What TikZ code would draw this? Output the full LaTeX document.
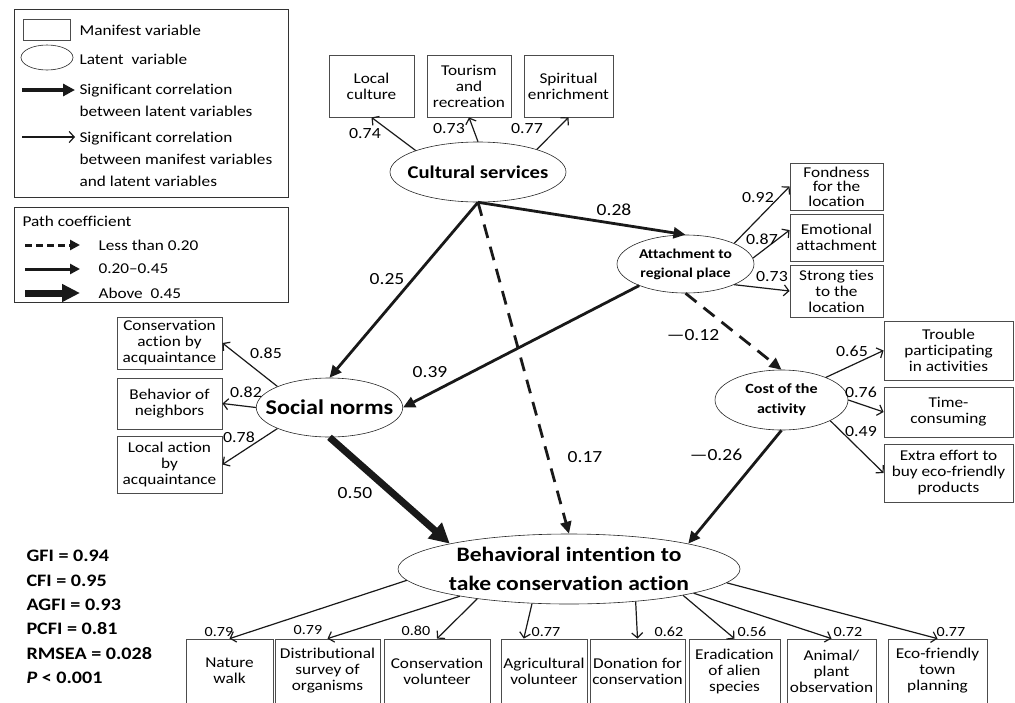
\documentclass[tikz,border=0pt]{standalone}
\usepackage{fontspec}
\setmainfont{Carlito}[FakeStretch=1.15, Ligatures=NoCommon]
\usetikzlibrary{arrows.meta,shapes.geometric}

\begin{document}
\begin{tikzpicture}[x=1pt, y=-1pt,
    mvar/.style={draw=black!70, line width=0.8pt, align=center, inner sep=0pt,
      font=\fontsize{15}{16}\selectfont},
    lvar/.style={ellipse, draw=black!85, line width=0.6pt, align=center,
      inner xsep=-12pt, inner ysep=0pt},
    load/.style={draw=black!90, line width=1.2pt, -{Straight Barb[length=5pt,width=11pt]}},
    lpath/.style={draw=black!90, line width=2.8pt, -{Triangle[length=12pt,width=11pt]}},
    weak/.style={lpath, dash pattern=on 14pt off 9pt},
    strong/.style={draw=black!90, line width=7pt, -{Triangle[length=20pt,width=20pt]}},
    coef/.style={font=\fontsize{17}{17}\selectfont},
    ld/.style={font=\fontsize{15.5}{16}\selectfont},
    lds/.style={font=\fontsize{14}{14}\selectfont},
    lgtext/.style={anchor=west, align=left, font=\fontsize{15}{22}\selectfont}]
  \useasboundingbox (0,0) rectangle (1015,702);

  % legend
  \draw[black!80, line width=0.8pt] (14,9) rectangle (288,197);
  \node[mvar, minimum width=47, minimum height=21] (lgbox) at (46.5,29.5) {};
  \node[ellipse, draw=black!85, line width=0.6pt, minimum width=52, minimum height=25, inner sep=0pt] (lgell) at (47,57.5) {};
  \node[lgtext] (lgmv) at (76,30) {Manifest variable};
  \node[lgtext] (lglv) at (76,59) {Latent~~variable};
  \coordinate (lgs1) at (22,90);
  \coordinate (lge1) at (75,90);
  \draw[draw=black!90, line width=4pt, -{Triangle[length=12pt,width=12pt]}] (lgs1) -- (lge1);
  \node[lgtext] (lgsl) at (76,100) {Significant correlation\\between latent variables};
  \coordinate (lgs2) at (22,137);
  \coordinate (lge2) at (75,137);
  \draw[load] (lgs2) -- (lge2);
  \node[lgtext] (lgsm) at (76,159) {Significant correlation\\between manifest variables\\and latent variables};

  \draw[black!80, line width=0.8pt] (14,207) rectangle (288,302);
  \node[lgtext] (lgpc) at (19,221) {Path coefficient};
  \coordinate (lgs3) at (25,245);
  \coordinate (lge3) at (80,245);
  \draw[draw=black!90, line width=3pt, dash pattern=on 7pt off 4pt, -{Triangle[length=10pt,width=10pt]}] (lgs3) -- (lge3);
  \node[lgtext] (lgweak) at (95,245) {Less than 0.20};
  \coordinate (lgs4) at (25,269);
  \coordinate (lge4) at (80,269);
  \draw[draw=black!90, line width=3pt, -{Triangle[length=10pt,width=10pt]}] (lgs4) -- (lge4);
  \node[lgtext] (lgmid) at (95,269) {0.20–0.45};
  \coordinate (lgs5) at (25,293);
  \coordinate (lge5) at (80,293);
  \draw[draw=black!90, line width=7pt, -{Triangle[length=18pt,width=17pt]}] (lgs5) -- (lge5);
  \node[lgtext] (lgstrong) at (95,293) {Above~~0.45};

  % latent variables
  \node[lvar, minimum width=176, minimum height=60, font=\bfseries\fontsize{18}{20}\selectfont] (cs) at (478,172) {Cultural services};
  \node[lvar, minimum width=137, minimum height=58, font=\bfseries\fontsize{13.5}{19}\selectfont] (att) at (685.5,264) {Attachment to\\regional place};
  \node[lvar, minimum width=133, minimum height=60, font=\bfseries\fontsize{14}{20}\selectfont] (co) at (781.5,400) {Cost of the\\activity};
  \node[lvar, minimum width=145, minimum height=59, font=\bfseries\fontsize{21}{22}\selectfont] (sn) at (329.5,407.5) {Social norms};
  \node[lvar, minimum width=342, minimum height=70, inner xsep=-20pt, font=\bfseries\fontsize{20.5}{29}\selectfont] (bi) at (569,569) {Behavioral intention to\\take conservation action};

  % manifest variables
  \node[mvar, minimum width=85, minimum height=62] (lc) at (371.5,86) {Local\\culture};
  \node[mvar, minimum width=84, minimum height=62] (tr) at (469,86) {Tourism\\and\\recreation};
  \node[mvar, minimum width=89, minimum height=62] (se) at (568.5,86) {Spiritual\\enrichment};

  \node[mvar, minimum width=93, minimum height=47, font=\fontsize{15}{14.5}\selectfont] (fo) at (836.5,186.5) {Fondness\\for the\\location};
  \node[mvar, minimum width=93, minimum height=47] (em) at (836.5,237.5) {Emotional\\attachment};
  \node[mvar, minimum width=93, minimum height=52] (st) at (836.5,291) {Strong ties\\to the\\location};

  \node[mvar, minimum width=129, minimum height=59] (tb) at (948.5,350.5) {Trouble\\participating\\in activities};
  \node[mvar, minimum width=129, minimum height=50] (tc) at (948.5,412) {Time-\\consuming};
  \node[mvar, minimum width=129, minimum height=58] (ee) at (948.5,473) {Extra effort to\\buy eco-friendly\\products};

  \node[mvar, minimum width=105, minimum height=52] (ca) at (169.5,343) {Conservation\\action by\\acquaintance};
  \node[mvar, minimum width=105, minimum height=51] (bn) at (169.5,403.5) {Behavior of\\neighbors};
  \node[mvar, minimum width=105, minimum height=57] (la) at (169.5,464.5) {Local action\\by\\acquaintance};

  \node[mvar, minimum width=87, minimum height=64] (nw) at (229.5,671) {Nature\\walk};
  \node[mvar, minimum width=105, minimum height=64] (ds) at (327.5,671) {Distributional\\survey of\\organisms};
  \node[mvar, minimum width=106, minimum height=64] (cv) at (437,671) {Conservation\\volunteer};
  \node[mvar, minimum width=86, minimum height=64] (av) at (544,671) {Agricultural\\volunteer};
  \node[mvar, minimum width=95, minimum height=64] (dn) at (637.5,671) {Donation for\\conservation};
  \node[mvar, minimum width=91, minimum height=64] (er) at (734.5,671) {Eradication\\of alien\\species};
  \node[mvar, minimum width=89, minimum height=64] (ao) at (831.5,671) {Animal/\\plant\\observation};
  \node[mvar, minimum width=99, minimum height=64] (ef) at (937.5,671) {Eco-friendly\\town\\planning};

  % loadings
  \draw[load] (cs.161) -- (lc.south);
  \draw[load] (cs.north) -- (tr.south);
  \draw[load] (cs.21) -- (se.south);
  \draw[load] (att.23) -- (fo.west);
  \draw[load] (att.5) -- (em.171);
  \draw[load] (att.-23) -- (st.west);
  \draw[load] (co.27) -- (tb.west);
  \draw[load] (co.east) -- (tc.west);
  \draw[load] (co.-23) -- (ee.west);
  \draw[load] (sn.158) -- (ca.east);
  \draw[load] (sn.west) -- (bn.east);
  \draw[load] (sn.202) -- (la.east);
  \draw[load] (bi.184) -- (nw.north);
  \draw[load] (bi.194) -- (ds.north);
  \draw[load] (bi.198) -- (cv.north);
  \draw[load] (bi.223) -- (av.122);
  \draw[load] (bi.-26) -- (dn.north);
  \draw[load] (bi.-13) -- (er.north);
  \draw[load] (bi.-11) -- (ao.north);
  \draw[load] (bi.-5) -- (ef.north);

  \node[ld] (l1) at (365,134) {0.74};
  \node[ld] (l2) at (449,129) {0.73};
  \node[ld] (l3) at (527,129) {0.77};
  \node[ld] (l4) at (758,198) {0.92};
  \node[ld] (l5) at (762,239) {0.87};
  \node[ld] (l6) at (772,277) {0.73};
  \node[ld] (l7) at (852,351) {0.65};
  \node[ld] (l8) at (861,392) {0.76};
  \node[ld] (l9) at (861,432) {0.49};
  \node[ld] (l10) at (266,353) {0.85};
  \node[ld] (l11) at (246,392) {0.82};
  \node[ld] (l12) at (239,437) {0.78};
  \node[lds] (l13) at (219,632) {0.79};
  \node[lds] (l14) at (308,630) {0.79};
  \node[lds] (l15) at (416,631) {0.80};
  \node[lds] (l16) at (546,632) {0.77};
  \node[lds] (l17) at (669,632) {0.62};
  \node[lds] (l18) at (752,632) {0.56};
  \node[lds] (l19) at (848,632) {0.72};
  \node[lds] (l20) at (951,632) {0.77};

  % paths
  \draw[lpath] (cs.south) -- (sn.north);
  \draw[lpath] (cs.south) -- (att.north);
  \draw[weak] (cs.south) -- (bi.north);
  \draw[lpath] (att.205) -- (sn.east);
  \draw[weak] (att.south) -- (co.north);
  \draw[strong] (sn.south) -- (bi.168);
  \draw[lpath] (co.south) -- (bi.12);

  \node[coef] (p1) at (387,279) {0.25};
  \node[coef] (p2) at (614,210) {0.28};
  \node[coef] (p3) at (585,457) {0.17};
  \node[coef] (p4) at (430,372) {0.39};
  \node[coef] (p5) at (693,335) {—0.12};
  \node[coef] (p6) at (355,493) {0.50};
  \node[coef] (p7) at (716,455) {—0.26};

  \node[anchor=west, align=left, font=\bfseries\fontsize{17.5}{24.4}\selectfont] (fit) at (23,617)
    {GFI = 0.94\\CFI = 0.95\\AGFI = 0.93\\PCFI = 0.81\\RMSEA = 0.028\\\textit{P} < 0.001};
\end{tikzpicture}
\end{document}
